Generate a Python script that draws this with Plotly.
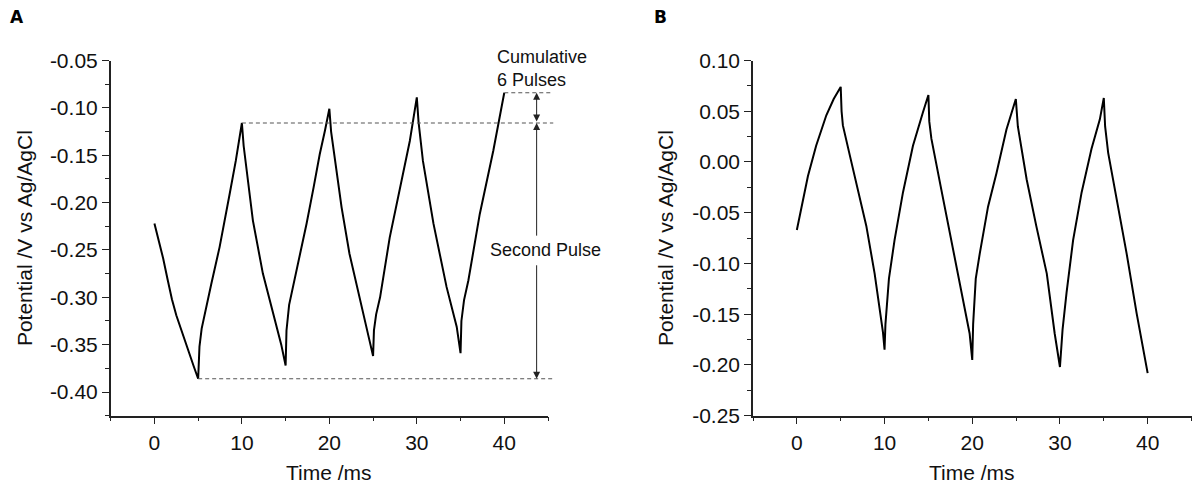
import plotly.graph_objects as go

FONT = "Liberation Sans"
INK = "#222222"

########## Data ##########
# panel A: potential (V vs Ag/AgCl) against time (ms)
a_time = [0.0, 0.5, 1.0, 1.5, 2.0, 2.5, 3.0, 3.5, 4.0, 4.5, 5.0,
          5.05, 5.15, 5.4, 5.9, 6.5, 7.45, 8.0, 8.6, 9.3, 10.0,
          10.2, 10.5, 11.26, 12.4, 13.2, 13.94, 14.5, 15.0,
          15.1, 15.4, 15.84, 16.6, 17.4, 18.2, 18.9, 19.5, 20.0,
          20.2, 20.6, 21.4, 22.3, 23.0, 23.7, 24.6, 25.0,
          25.1, 25.35, 25.8, 26.9, 28.06, 29.2, 30.0,
          30.2, 30.7, 31.9, 33.4, 34.56, 35.0,
          35.1, 35.4, 35.9, 37.2, 38.75, 40.0]
a_pot = [-0.222, -0.240, -0.259, -0.281, -0.302, -0.319, -0.333, -0.347, -0.360, -0.373, -0.386,
         -0.370, -0.352, -0.333, -0.310, -0.286, -0.247, -0.222, -0.191, -0.156, -0.116,
         -0.140, -0.163, -0.219, -0.275, -0.303, -0.328, -0.350, -0.372,
         -0.335, -0.308, -0.289, -0.258, -0.222, -0.184, -0.149, -0.124, -0.101,
         -0.125, -0.152, -0.205, -0.254, -0.283, -0.310, -0.346, -0.362,
         -0.335, -0.318, -0.300, -0.237, -0.187, -0.135, -0.089,
         -0.115, -0.156, -0.222, -0.289, -0.331, -0.359,
         -0.325, -0.303, -0.282, -0.212, -0.145, -0.084]

# panel B
b_time = [0.0, 0.5, 1.26, 2.2, 3.36, 4.2, 5.0,
          5.1, 5.25, 6.0, 6.78, 7.92, 8.87, 9.52, 9.82, 10.0,
          10.1, 10.5, 11.14, 12.1, 13.24, 14.38, 15.0,
          15.1, 15.34, 16.4, 17.43, 18.6, 19.7, 20.0,
          20.1, 20.4, 20.86, 21.8, 22.76, 23.9, 24.97,
          25.2, 26.2, 27.3, 28.5, 29.4, 30.0,
          30.3, 30.75, 31.5, 32.47, 33.6, 34.55, 35.0,
          35.15, 35.5, 36.46, 37.6, 38.74, 40.0]
b_pot = [-0.067, -0.046, -0.014, 0.016, 0.046, 0.062, 0.074,
         0.050, 0.036, 0.008, -0.020, -0.063, -0.110, -0.150, -0.168, -0.185,
         -0.160, -0.115, -0.077, -0.030, 0.016, 0.049, 0.066,
         0.040, 0.023, -0.024, -0.070, -0.121, -0.169, -0.195,
         -0.160, -0.115, -0.090, -0.044, -0.011, 0.032, 0.062,
         0.035, -0.017, -0.063, -0.110, -0.169, -0.202,
         -0.165, -0.129, -0.077, -0.030, 0.013, 0.042, 0.063,
         0.035, 0.009, -0.037, -0.090, -0.149, -0.208]

x_ticks = [0, 10, 20, 30, 40]
x_labels = ["0", "10", "20", "30", "40"]
a_yticks = [-0.40, -0.35, -0.30, -0.25, -0.20, -0.15, -0.10, -0.05]
a_ylabels = ["-0.40", "-0.35", "-0.30", "-0.25", "-0.20", "-0.15", "-0.10", "-0.05"]
b_yticks = [-0.25, -0.20, -0.15, -0.10, -0.05, 0.00, 0.05, 0.10]
b_ylabels = ["-0.25", "-0.20", "-0.15", "-0.10", "-0.05", "0.00", "0.05", "0.10"]

# reference levels used by the dashed guides in panel A
lvl_first_trough = a_pot[a_time.index(5.0)]
lvl_first_peak = a_pot[a_time.index(10.0)]
lvl_last = a_pot[-1]

######### Layout helpers ###########
# the page puts the plot 8px in from the top-left corner of the window
OFF = 8
W, H = 1200 - OFF, 487 - OFF


def px(X=None, Y=None):
    # window pixel -> paper coordinate
    if Y is None:
        return (X - OFF) / W
    return 1 - (Y - OFF) / H


XR = [-5, 45]
DOM_A = [px(X=110.7), px(X=548)]
DOM_B = [px(X=753), px(X=1191.5)]
DOM_Y = [px(Y=415.7), px(Y=60.5)]


def a_paper(t):
    # time in panel A -> paper x
    return DOM_A[0] + (t - XR[0]) / (XR[1] - XR[0]) * (DOM_A[1] - DOM_A[0])


######### Figure ###########
fig = go.Figure()
fig.add_trace(go.Scatter(x=a_time, y=a_pot, mode="lines",
                         line=dict(color="black", width=2),
                         xaxis="x", yaxis="y", showlegend=False))
fig.add_trace(go.Scatter(x=b_time, y=b_pot, mode="lines",
                         line=dict(color="black", width=2),
                         xaxis="x2", yaxis="y2", showlegend=False))

ax_style = dict(showline=True, linecolor=INK, linewidth=1.5, showgrid=False,
                zeroline=False, ticks="outside", ticklen=7, tickwidth=1.3,
                tickcolor=INK, automargin=False,
                tickfont=dict(family=FONT, size=21, color="#111111"))

x_common = dict(range=XR, tickmode="array", tickvals=x_ticks, ticktext=x_labels,
                minor=dict(tickmode="linear", tick0=0, dtick=5, ticks="outside",
                           ticklen=4, tickwidth=1.2, tickcolor=INK),
                **ax_style)

fig.update_layout(
    width=W, height=H,
    margin=dict(l=0, r=0, t=0, b=0),
    paper_bgcolor="white", plot_bgcolor="white",
    font=dict(family=FONT, color="#111111"),
    xaxis=dict(domain=DOM_A, anchor="y", **x_common),
    xaxis2=dict(domain=DOM_B, anchor="y2", **x_common),
    yaxis=dict(domain=DOM_Y, anchor="x", range=[-0.425, -0.05],
               tickmode="array", tickvals=a_yticks, ticktext=a_ylabels,
               minor=dict(tickmode="linear", tick0=-0.425, dtick=0.025, ticks="outside",
                          ticklen=4, tickwidth=1.2, tickcolor=INK),
               **ax_style),
    yaxis2=dict(domain=DOM_Y, anchor="x2", range=[-0.25, 0.10],
                tickmode="array", tickvals=b_yticks, ticktext=b_ylabels,
                minor=dict(tickmode="linear", tick0=-0.25, dtick=0.025, ticks="outside",
                           ticklen=4, tickwidth=1.2, tickcolor=INK),
                **ax_style),
)

# dashed guide lines (panel A)
guide_end = a_paper(45.6)
for t0, lvl in [(5.0, lvl_first_trough), (10.0, lvl_first_peak), (40.0, lvl_last)]:
    fig.add_shape(type="line", xref="paper", yref="y",
                  x0=a_paper(t0), x1=guide_end, y0=lvl, y1=lvl,
                  line=dict(color="#555555", width=1.1, dash="4px,3px"))

# arrows
arrow_x = 43.7
arrow_kw = dict(xref="x", yref="y", axref="x", ayref="y", text="", showarrow=True,
                arrowhead=2, arrowsize=1.4, arrowwidth=1, arrowcolor="#222222")
fig.add_annotation(x=arrow_x, y=lvl_last, ax=arrow_x, ay=lvl_first_peak,
                   arrowside="end+start", **arrow_kw)
fig.add_annotation(x=arrow_x, y=lvl_first_peak, ax=arrow_x, ay=-0.2365, **arrow_kw)
fig.add_annotation(x=arrow_x, y=lvl_first_trough, ax=arrow_x, ay=-0.2646, **arrow_kw)

# text annotations
fig.add_annotation(x=44.77, y=-0.2505, xref="x", yref="y", text="Second Pulse",
                   showarrow=False, xanchor="center", yanchor="middle",
                   font=dict(family=FONT, size=18, color="#111111"))
fig.add_annotation(x=38.9, y=-0.058, xref="x", yref="y", text="Cumulative<br>6 Pulses",
                   showarrow=False, xanchor="left", yanchor="middle", align="left",
                   font=dict(family=FONT, size=18, color="#111111"))

# axis titles
for xc in [(DOM_A[0] + DOM_A[1]) / 2, (DOM_B[0] + DOM_B[1]) / 2]:
    fig.add_annotation(x=xc, y=px(Y=472), xref="paper", yref="paper", text="Time /ms",
                       showarrow=False, xanchor="center", yanchor="middle",
                       font=dict(family=FONT, size=21, color="#111111"))
for X in [24, 665]:
    fig.add_annotation(x=px(X=X), y=(DOM_Y[0] + DOM_Y[1]) / 2, xref="paper", yref="paper",
                       text="Potential /V vs Ag/AgCl", textangle=-90, showarrow=False,
                       xanchor="center", yanchor="middle",
                       font=dict(family=FONT, size=21, color="#111111"))

# panel letters
for X, letter in [(8, "A"), (652, "B")]:
    fig.add_annotation(x=px(X=X), y=px(Y=17), xref="paper", yref="paper",
                       text=f"<b>{letter}</b>", showarrow=False,
                       xanchor="left", yanchor="middle",
                       font=dict(family="DejaVu Sans", size=17, color="black"))

fig.write_html("out.html")
